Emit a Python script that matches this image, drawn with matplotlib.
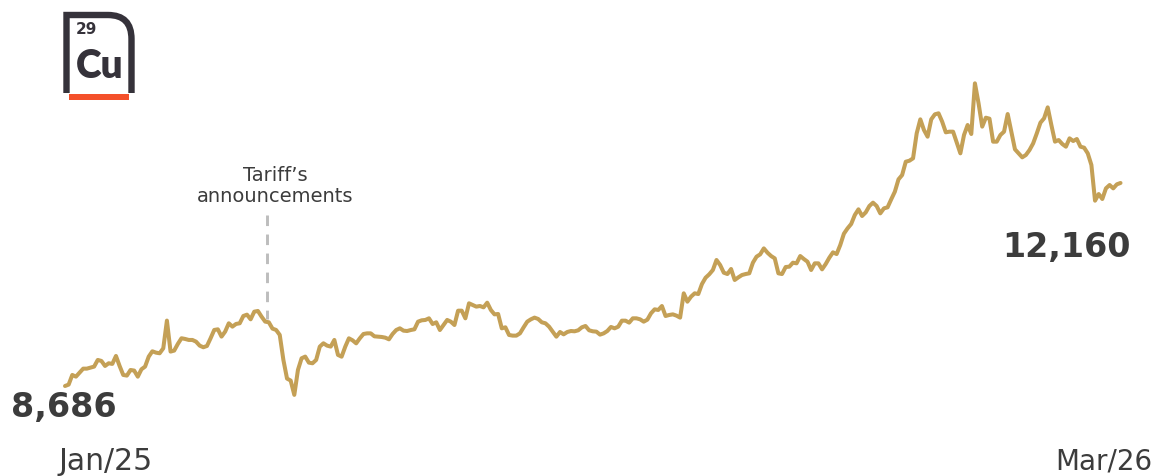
import matplotlib
matplotlib.use('Agg')
import matplotlib.pyplot as plt
from matplotlib.path import Path
from matplotlib.patches import PathPatch, Rectangle

plt.rcParams['font.family'] = ['DejaVu Sans']
plt.rcParams['lines.scale_dashes'] = False

# LME copper, USD/t, one value per trading session
prices = [
    8686, 8710, 8875, 8846, 8915, 8983, 8983, 9000, 9018, 9132,
    9115, 9029, 9075, 9064, 9200, 9029, 8875, 8864, 8960, 8950,
    8846, 8972, 9018, 9189, 9280, 9257, 9246, 9331, 9805, 9275,
    9292, 9406, 9503, 9491, 9474, 9474, 9445, 9377, 9349, 9371,
    9503, 9645, 9656, 9531, 9617, 9759, 9702, 9748, 9759, 9884,
    9907, 9827, 9958, 9970, 9873, 9788, 9776, 9668, 9645, 9560,
    9132, 8813, 8779, 8534, 8961, 9160, 9189, 9086, 9075, 9132,
    9360, 9417, 9377, 9360, 9474, 9218, 9188, 9359, 9502, 9468,
    9416, 9502, 9576, 9587, 9587, 9536, 9530, 9525, 9513, 9485,
    9576, 9644, 9673, 9633, 9627, 9644, 9656, 9787, 9810, 9816,
    9844, 9747, 9776, 9644, 9730, 9816, 9787, 9730, 9975, 9975,
    9844, 10101, 10072, 10044, 10055, 10032, 10112, 9987, 9912, 9918,
    9673, 9690, 9559, 9548, 9548, 9587, 9690, 9787, 9827, 9856,
    9833, 9776, 9759, 9701, 9616, 9530, 9610, 9570, 9610, 9627,
    9622, 9639, 9690, 9713, 9639, 9622, 9616, 9565, 9587, 9627,
    9696, 9673, 9701, 9804, 9804, 9770, 9844, 9844, 9827, 9787,
    9821, 9930, 9998, 9987, 10055, 9884, 9901, 9912, 9890, 9856,
    10272, 10129, 10215, 10272, 10260, 10431, 10539, 10597, 10671, 10842,
    10756, 10625, 10602, 10688, 10500, 10545, 10585, 10602, 10614, 10796,
    10899, 10939, 11041, 10967, 10910, 10870, 10614, 10602, 10722, 10728,
    10796, 10785, 10910, 10859, 10813, 10671, 10785, 10785, 10682, 10773,
    10882, 10973, 10944, 11098, 11292, 11383, 11458, 11612, 11709, 11595,
    11657, 11766, 11823, 11766, 11640, 11726, 11743, 11880, 12011, 12222,
    12296, 12524, 12541, 12582, 13009, 13249, 13066, 12952, 13249, 13335,
    13352, 13209, 13027, 13038, 13038, 12855, 12667, 12981, 13152, 12998,
    13865, 13523, 13124, 13277, 13260, 12867, 12867, 12981, 13038, 13340,
    13038, 12736, 12667, 12599, 12639, 12724, 12838, 13009, 13192, 13266,
    13454, 13152, 12867, 12895, 12827, 12781, 12924, 12878, 12912, 12781,
    12764, 12667, 12468, 11857, 11971, 11886, 12068, 12125, 12068, 12137,
    12160,
]
first_label = '8,686'
last_label = '12,160'
start_label = 'Jan/25'
end_label = 'Mar/26'
note_label = 'Tariff\u2019s\nannouncements'
note_session = 55.5

GOLD = '#C4A056'
DARK = '#3C3C3C'
LOGO = '#35323A'

fig = plt.figure(figsize=(11.58, 4.76), dpi=100)

ax = fig.add_axes([0, 0, 1, 1])
ax.plot(range(len(prices)), prices, color=GOLD, lw=2.9, solid_joinstyle='round', solid_capstyle='round')
# dashes start from the top of the marker line
ax.plot([note_session, note_session], [11612, 9840], color='#BDBDBD', lw=2.1, dashes=(7.6, 6.1), dash_capstyle='butt', zorder=1)
ax.set_xlim(-17.86, 300.3)
ax.set_ylim(7146, 15291)
ax.axis('off')

# text and logo are placed in figure pixels, origin top left
px = fig.add_axes([0, 0, 1, 1], facecolor='none')
px.set_xlim(0, 1158)
px.set_ylim(476, 0)
px.axis('off')

px.text(64, 408, first_label, fontsize=24, fontweight='bold', color=DARK, ha='center', va='center')
px.text(1067, 247, last_label, fontsize=24, fontweight='bold', color=DARK, ha='center', va='center')
px.text(106, 462, start_label, fontsize=21.5, color=DARK, ha='center', va='center')
px.text(1104, 462, end_label, fontsize=20, color=DARK, ha='center', va='center')
px.text(275.5, 186, note_label, fontsize=14, color=DARK, ha='center', va='center', linespacing=1.1)

# copper element tile
tile = Path(
    [(66.5, 93), (66.5, 15), (108, 15), (131.5, 15), (131.5, 39), (131.5, 93)],
    [Path.MOVETO, Path.LINETO, Path.LINETO, Path.CURVE3, Path.CURVE3, Path.LINETO],
)
px.add_patch(PathPatch(tile, fill=False, edgecolor=LOGO, lw=4.6, capstyle='butt', joinstyle='miter'))
px.add_patch(Rectangle((69, 94), 60, 5.5, facecolor='#F4502A', edgecolor='none'))
px.text(86, 30, '29', fontsize=11, fontweight='bold', color=LOGO, ha='center', va='center')
px.text(100, 66, 'Cu', fontsize=28, fontweight='heavy', family='Lato', color=LOGO, ha='center', va='center')

fig.savefig('out.png', dpi=100)
